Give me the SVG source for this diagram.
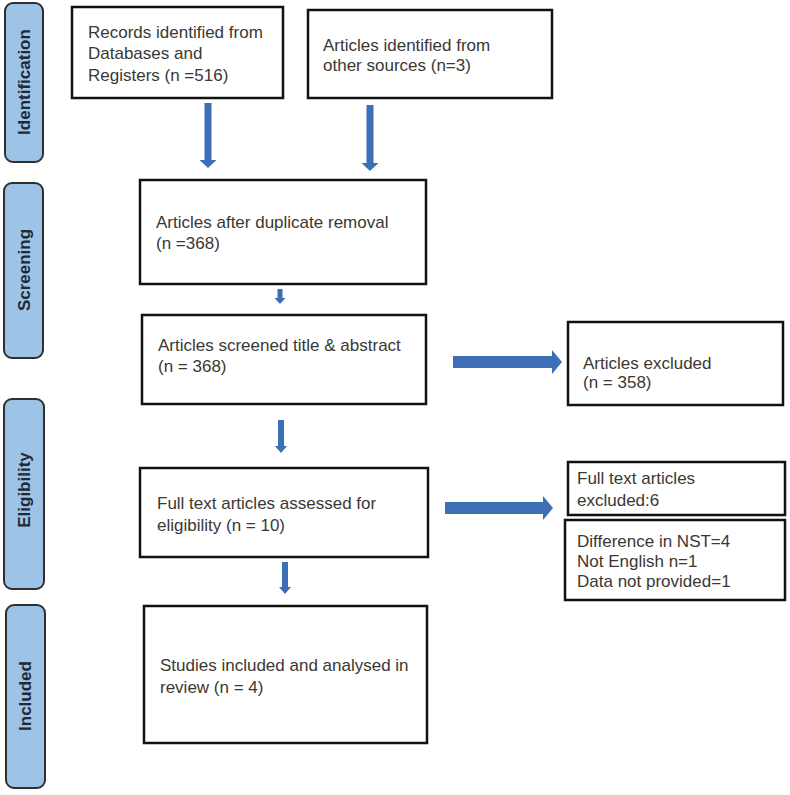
<svg xmlns="http://www.w3.org/2000/svg" width="790" height="795" viewBox="0 0 790 795">
<style>
.stage{fill:#9dc3e6;stroke:#2f2f2f;stroke-width:2}
.stxt{font-family:"Liberation Sans",Arial,sans-serif;font-size:17px;font-weight:bold;fill:#1e2a38}
.box{fill:#fff;stroke:#111;stroke-width:2.5}
.t{font-family:"Liberation Sans",Arial,sans-serif;font-size:17px;fill:#3a3834}
.arr{fill:#3d6fb6}
</style>
<rect width="790" height="795" fill="#fff"/>
<g id="stage-identification"><rect class="stage" x="5" y="3" width="38" height="159" rx="8"/><text class="stxt" transform="translate(30,82) rotate(-90)" text-anchor="middle">Identification</text></g>
<g id="stage-screening"><rect class="stage" x="4" y="183" width="39" height="175" rx="8"/><text class="stxt" transform="translate(30,270) rotate(-90)" text-anchor="middle">Screening</text></g>
<g id="stage-eligibility"><rect class="stage" x="4" y="399" width="40" height="190" rx="8"/><text class="stxt" transform="translate(30,490) rotate(-90)" text-anchor="middle">Eligibility</text></g>
<g id="stage-included"><rect class="stage" x="6" y="605" width="39" height="183" rx="8"/><text class="stxt" transform="translate(31,696) rotate(-90)" text-anchor="middle">Included</text></g>

<g id="records"><rect class="box" x="72" y="7" width="211" height="91"/><text class="t" x="88" y="38">Records identified from</text><text class="t" x="88" y="59">Databases and</text><text class="t" x="88" y="81">Registers (n =516)</text></g>
<g id="other-sources"><rect class="box" x="308" y="10" width="244" height="88"/><text class="t" x="323" y="51">Articles identified from</text><text class="t" x="323" y="71">other sources (n=3)</text></g>
<g id="dedup"><rect class="box" x="140" y="180" width="286" height="104"/><text class="t" x="156" y="228">Articles after duplicate removal</text><text class="t" x="156" y="249">(n =368)</text></g>
<g id="screened"><rect class="box" x="142" y="315" width="284" height="89"/><text class="t" x="158" y="351">Articles screened title &amp; abstract</text><text class="t" x="158" y="372">(n = 368)</text></g>
<g id="excluded"><rect class="box" x="568" y="322" width="215" height="83"/><text class="t" x="583" y="369">Articles excluded</text><text class="t" x="583" y="388">(n = 358)</text></g>
<g id="fulltext"><rect class="box" x="140" y="468" width="288" height="89"/><text class="t" x="157" y="509">Full text articles assessed for</text><text class="t" x="157" y="531">eligibility (n = 10)</text></g>
<g id="ft-excluded"><rect class="box" x="568" y="462" width="217" height="53"/><text class="t" x="577" y="484">Full text articles</text><text class="t" x="577" y="506">excluded:6</text></g>
<g id="reasons"><rect class="box" x="565" y="520" width="220" height="80"/><text class="t" x="577" y="547">Difference in NST=4</text><text class="t" x="577" y="567">Not English n=1</text><text class="t" x="577" y="587">Data not provided=1</text></g>
<g id="included"><rect class="box" x="144" y="606" width="283" height="137"/><text class="t" x="160" y="671">Studies included and analysed in</text><text class="t" x="160" y="693">review (n = 4)</text></g>

<g id="connectors">
<polygon class="arr" points="204.5,103 211.5,103 211.5,160 216.5,160 208,168 199.5,160 204.5,160"/>
<polygon class="arr" points="366.5,105 373.5,105 373.5,163 378.5,163 370,171 361.5,163 366.5,163"/>
<polygon class="arr" points="277.5,289 282.5,289 282.5,298 285.5,298 280,304 274.5,298 277.5,298"/>
<polygon class="arr" points="278,420 284,420 284,446 287,446 281,453 275,446 278,446"/>
<polygon class="arr" points="282,562 288,562 288,587 291,587 285,594 279,587 282,587"/>
<polygon class="arr" points="453,356 552,356 552,350 562,362 552,374 552,368 453,368"/>
<polygon class="arr" points="445,502 543,502 543,496 553,508 543,520 543,514 445,514"/>
</g>
</svg>
